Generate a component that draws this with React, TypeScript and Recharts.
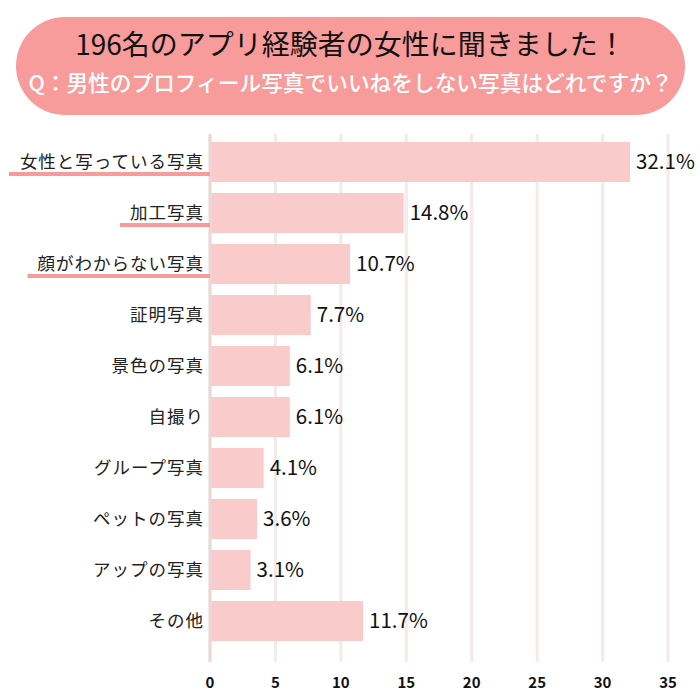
import React from 'react';
import { BarChart, Bar, XAxis, YAxis, CartesianGrid, LabelList } from 'recharts';

const categories = ['女性と写っている写真', '加工写真', '顔がわからない写真', '証明写真', '景色の写真', '自撮り', 'グループ写真', 'ペットの写真', 'アップの写真', 'その他'];
const values = [32.1, 14.8, 10.7, 7.7, 6.1, 6.1, 4.1, 3.6, 3.1, 11.7];
const highlighted = ['女性と写っている写真', '加工写真', '顔がわからない写真'];
const xTicks = [0, 5, 10, 15, 20, 25, 30, 35];
const titleLine1 = '196名のアプリ経験者の女性に聞きました！';
const titleLine2 = 'Q：男性のプロフィール写真でいいねをしない写真はどれですか？';

const data = categories.map((name, i) => ({ name, value: values[i] }));

const FONT = '"Noto Sans CJK JP", "Noto Sans", sans-serif';

const CatTick = (props: any) => {
  const { x, y, payload } = props;
  const label: string = payload.value;
  const under = highlighted.includes(label);
  const fs = 17.5;
  const ls = 1;
  const textRight = x - 4;
  const w = label.length * (fs + ls);
  return (
    <g>
      <text x={textRight} y={y} dy="0.36em" textAnchor="end" fontSize={fs} letterSpacing={ls} fill="#222" fontFamily={FONT}>
        {label}
      </text>
      {under && (
        <line x1={textRight - w - 10} x2={x + 2} y1={y + 12.5} y2={y + 12.5} stroke="#f79b9b" strokeWidth={4} />
      )}
    </g>
  );
};

const NumTick = (props: any) => {
  const { x, y, payload } = props;
  return (
    <text x={x} y={y} dy={18} textAnchor="middle" fontSize={15} fontWeight="bold" fill="#111" fontFamily={FONT}>
      {payload.value}
    </text>
  );
};

export default function App() {
  return (
    <div style={{ position: 'absolute', left: 0, top: 0, width: 700, height: 700, background: '#fff', fontFamily: FONT }}>
      <div
        style={{
          position: 'absolute',
          left: 16,
          top: 17,
          width: 669,
          height: 98,
          borderRadius: 49,
          background: '#f79b9b',
          textAlign: 'center',
        }}
      >
        <div style={{ position: 'absolute', left: 0, right: 0, top: 8, fontSize: 28, color: '#111', lineHeight: '36px', fontWeight: 400 }}>{titleLine1}</div>
        <div style={{ position: 'absolute', left: 0, right: 0, top: 51, fontSize: 21.7, color: '#fff', fontWeight: 500, lineHeight: '28px' }}>{titleLine2}</div>
      </div>
      <div style={{ position: 'absolute', left: 0, top: 0 }}>
        <BarChart
          width={700}
          height={700}
          data={data}
          layout="vertical"
          margin={{ top: 134, right: 32, bottom: 0, left: 0 }}
          barSize={40}
        >
          <CartesianGrid horizontal={false} stroke="#f6e9e9" strokeWidth={3} />
          <XAxis
            type="number"
            domain={[0, 35]}
            ticks={xTicks}
            axisLine={false}
            tickLine={false}
            height={38}
            tick={<NumTick />}
            interval={0}
          />
          <YAxis
            type="category"
            dataKey="name"
            width={210}
            axisLine={{ stroke: '#e9d8d8', strokeWidth: 3 }}
            tickLine={false}
            tickSize={0}
            tickMargin={2}
            tick={<CatTick />}
            padding={{ top: 2, bottom: 16 }}
            interval={0}
          />
          <Bar dataKey="value" fill="#f9cbcb" isAnimationActive={false}>
            <LabelList
              dataKey="value"
              position="right"
              offset={6}
              formatter={(v: any) => `${v}%`}
              style={{ fontSize: 20.5, fill: '#111', fontFamily: FONT }}
            />
          </Bar>
        </BarChart>
      </div>
    </div>
  );
}
